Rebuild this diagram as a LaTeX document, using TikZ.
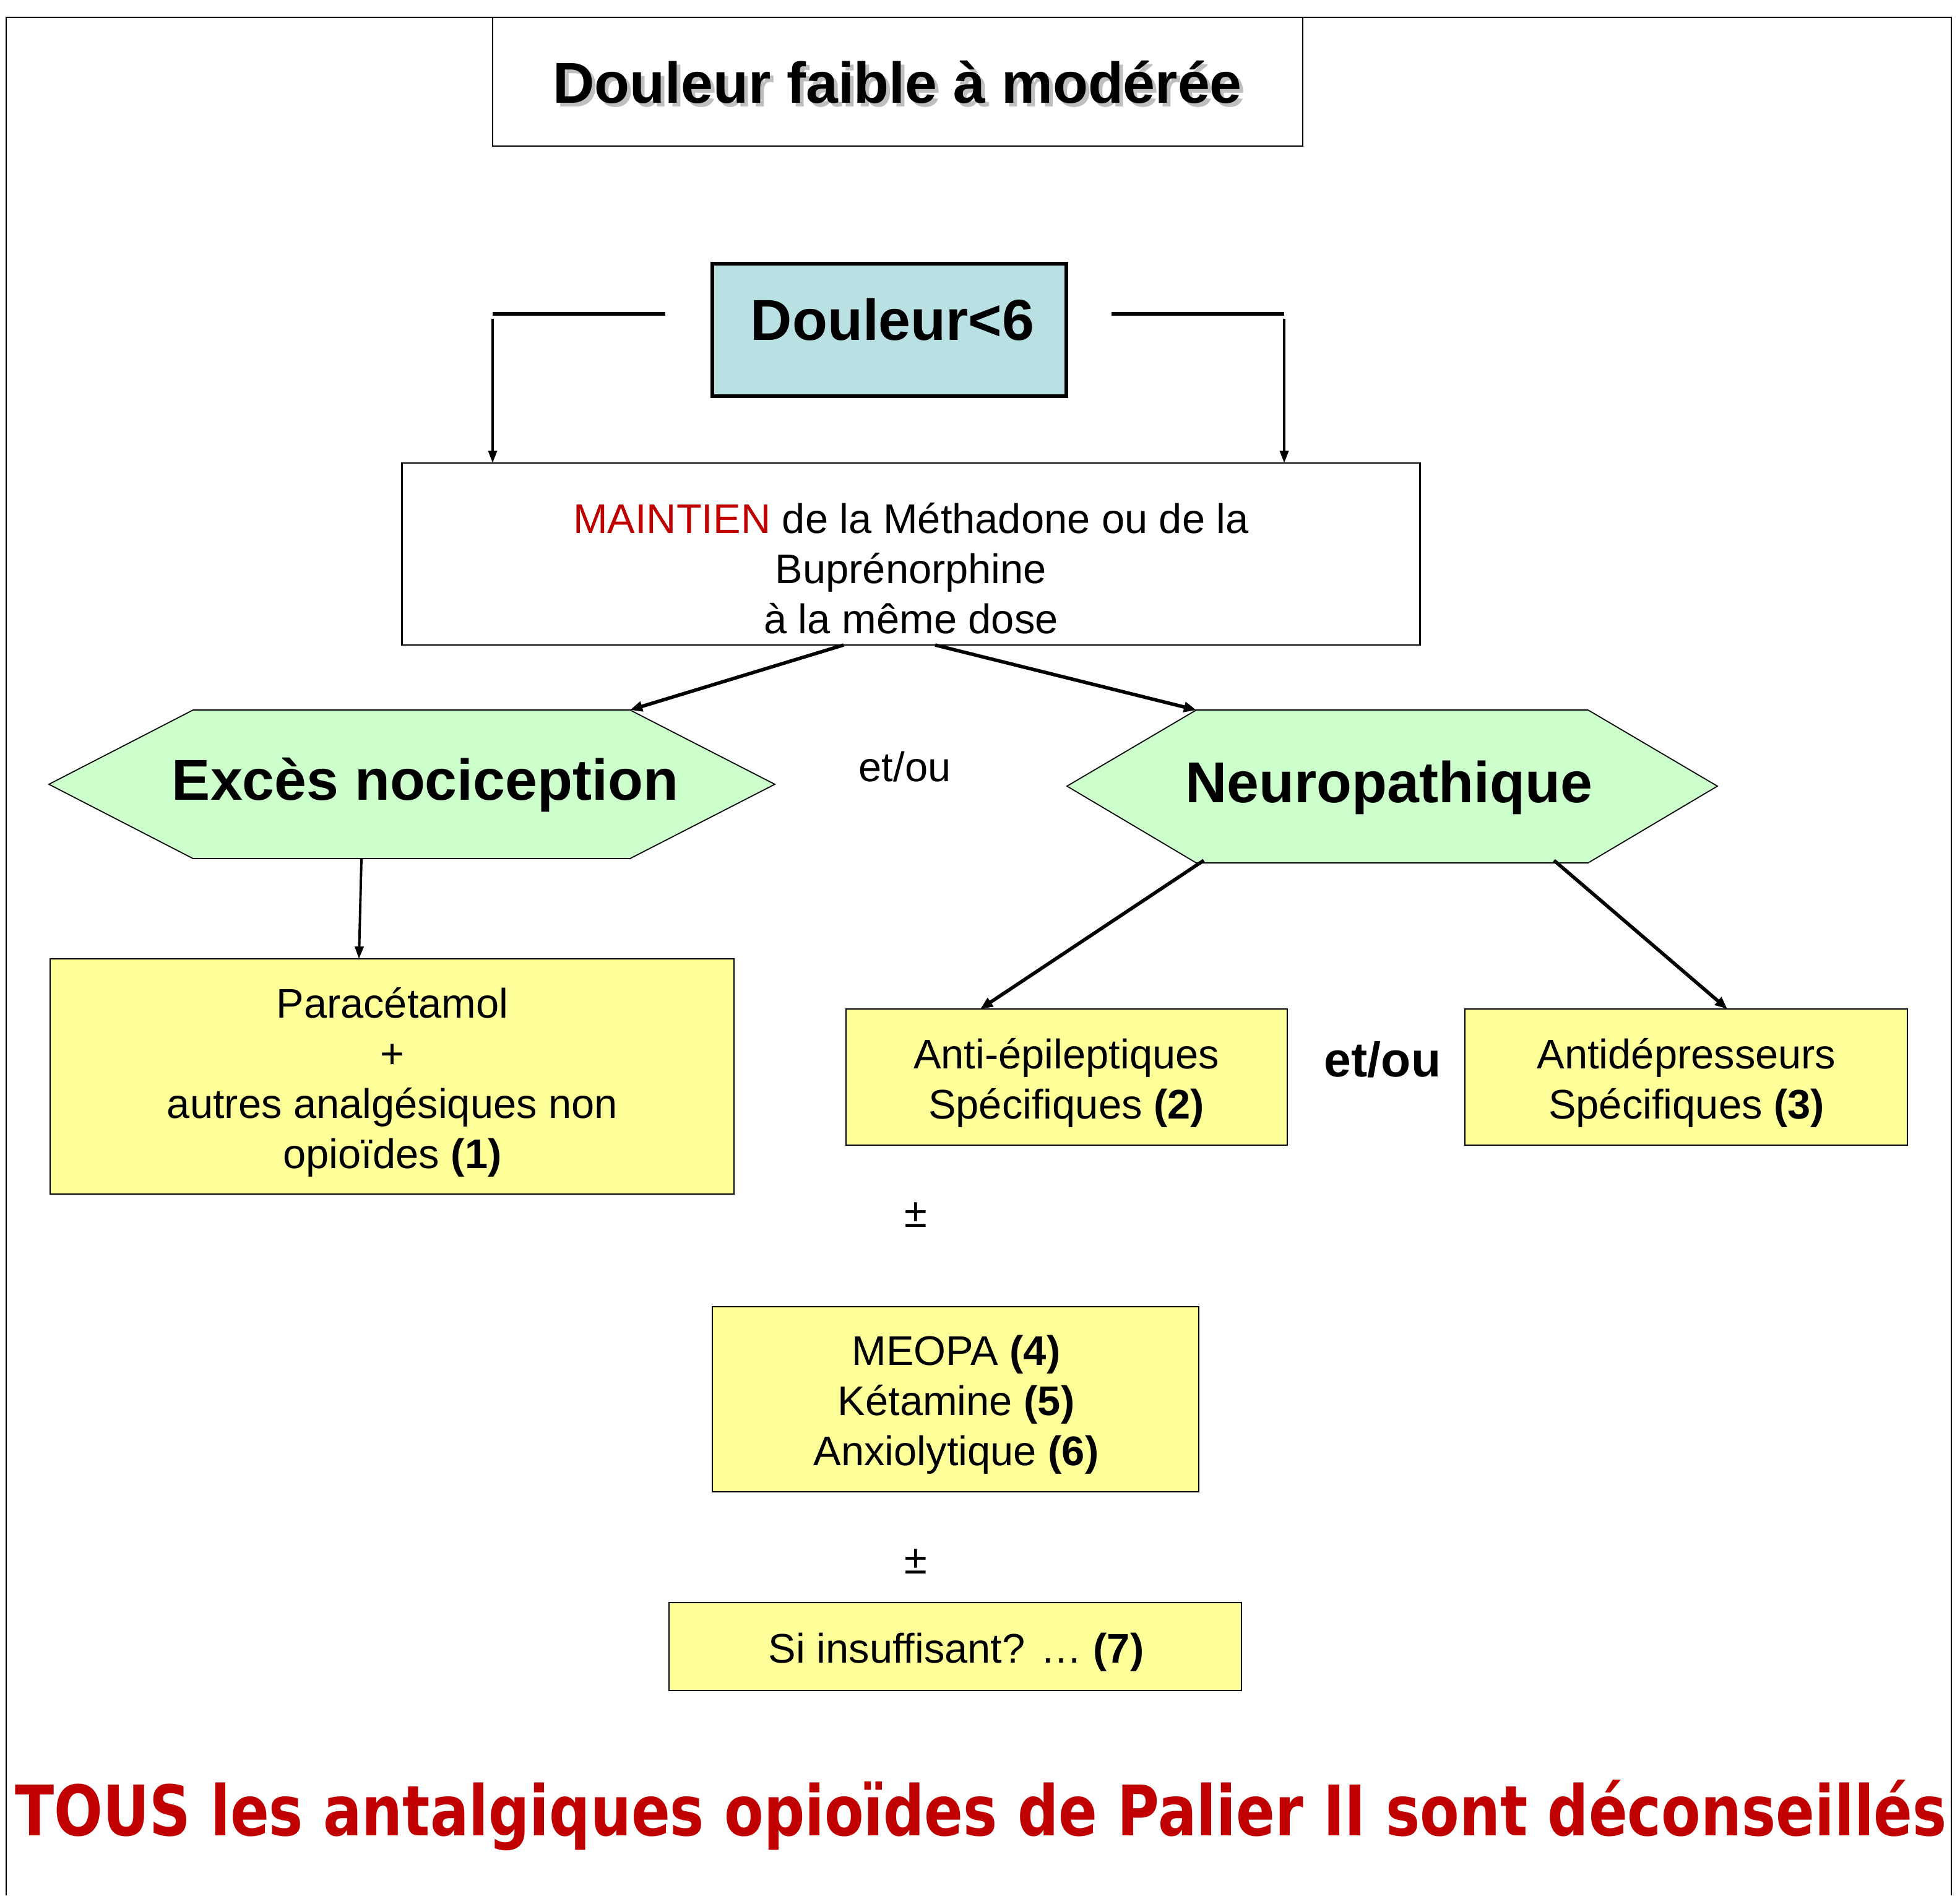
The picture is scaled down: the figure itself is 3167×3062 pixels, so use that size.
\documentclass[tikz,border=0pt]{standalone}
\usepackage{fontspec}
\setmainfont{Liberation Sans}
\newfontfamily\comicfont{DejaVu Sans}
\usetikzlibrary{arrows.meta}
\definecolor{dblue}{RGB}{185,224,227}
\definecolor{hgreen}{RGB}{204,255,204}
\definecolor{byellow}{RGB}{255,255,153}
\definecolor{dred}{RGB}{192,0,0}
\begin{document}
\begin{tikzpicture}[x=0.01cm,y=-0.01cm,
  txt/.style={font=\fontsize{19}{23}\selectfont, align=center, inner sep=0pt},
  bigtxt/.style={font=\fontsize{26.5}{32}\selectfont\bfseries, inner sep=0pt},
  plainbox/.style={draw, line width=0.6pt, inner sep=0pt},
  ybox/.style={plainbox, fill=byellow},
  hexa/.style={draw, line width=0.5pt, fill=hgreen},
  arr/.style={-{Triangle[length=0.2cm,width=0.16cm]}, line width=1.6pt},
  thinarr/.style={-{Triangle[length=0.2cm,width=0.14cm]}, line width=1.1pt},
  brk/.style={line width=1.6pt}
]
\useasboundingbox (0,0) rectangle (3167,3062);
% outer frame
\draw[line width=0.6pt] (10,3062) -- (10,28) -- (3153,28) -- (3153,3062);

% title
\node[plainbox, minimum width=13.09cm, minimum height=2.08cm] (title) at (1450.5,132) {};
\node[bigtxt, text=black!25] (titleshadow) at (1456,139) {Douleur faible à modérée};
\node[bigtxt] (titletxt) at (1450,133) {Douleur faible à modérée};

% Douleur<6
\node[draw, line width=1.6pt, fill=dblue, minimum width=5.72cm, minimum height=2.14cm, inner sep=0pt] (d6) at (1437,533) {};
\node[bigtxt] (d6txt) at (1442,516) {Douleur<6};

% bracket lines
\coordinate (lh1) at (796,507);
\coordinate (lh2) at (1075,507);
\coordinate (lv1) at (796,515);
\coordinate (lv2) at (796,748);
\coordinate (rh1) at (1796,507);
\coordinate (rh2) at (2075,507);
\coordinate (rv1) at (2075,515);
\coordinate (rv2) at (2075,748);
\draw[brk] (lh1) -- (lh2);
\draw[brk] (rh1) -- (rh2);
\draw[thinarr] (lv1) -- (lv2);
\draw[thinarr] (rv1) -- (rv2);

% maintien
\node[plainbox, minimum width=16.44cm, minimum height=2.94cm] (maint) at (1472,895) {};
\node[txt] (mainttxt) at (1472,918) {\textcolor{dred}{MAINTIEN} de la Méthadone ou de la\\Buprénorphine\\à la même dose};

% hexagons
\coordinate (hl1) at (79,1267);
\coordinate (hl2) at (312,1147);
\coordinate (hl3) at (1018,1147);
\coordinate (hl4) at (1252,1267);
\coordinate (hl5) at (1018,1387);
\coordinate (hl6) at (312,1387);
\draw[hexa] (hl1) -- (hl2) -- (hl3) -- (hl4) -- (hl5) -- (hl6) -- cycle;
\node[bigtxt] (noci) at (687,1268) {Excès nociception};

\coordinate (hr1) at (1724,1270);
\coordinate (hr2) at (1933,1147);
\coordinate (hr3) at (2566,1147);
\coordinate (hr4) at (2775,1270);
\coordinate (hr5) at (2566,1394);
\coordinate (hr6) at (1933,1394);
\draw[hexa] (hr1) -- (hr2) -- (hr3) -- (hr4) -- (hr5) -- (hr6) -- cycle;
\node[bigtxt] (neuro) at (2244,1272) {Neuropathique};

\node[txt] (etou1) at (1462,1239) {et/ou};

% arrows from maintien
\coordinate (m1) at (1363,1042);
\coordinate (m2) at (1511,1042);
\draw[arr] (m1) -- (hl3);
\draw[arr] (m2) -- (hr2);

% paracetamol
\node[ybox, minimum width=11.05cm, minimum height=3.80cm] (para) at (633.5,1739) {};
\node[txt] (paratxt) at (634,1748) {Paracétamol\\+\\autres analgésiques non\\opioïdes \textbf{(1)}};
\coordinate (pl1) at (584,1388);
\draw[thinarr] (pl1) -- (580,1549);

% neuropathic boxes
\node[ybox, minimum width=7.13cm, minimum height=2.20cm] (anti) at (1723.5,1740) {};
\node[txt] (antitxt) at (1723,1749) {Anti-épileptiques\\Spécifiques \textbf{(2)}};
\node[ybox, minimum width=7.15cm, minimum height=2.20cm] (antid) at (2724.5,1740) {};
\node[txt] (antidtxt) at (2725,1749) {Antidépresseurs\\Spécifiques \textbf{(3)}};
\node[font=\fontsize{22.4}{27}\selectfont\bfseries, inner sep=0pt] (etou2) at (2234,1712) {et/ou};

\coordinate (n1) at (1945,1390);
\coordinate (n2) at (2511,1390);
\coordinate (a1) at (1584,1630);
\coordinate (a2) at (2791,1630);
\draw[arr] (n1) -- (a1);
\draw[arr] (n2) -- (a2);

% pm
\node[txt] (pm1) at (1480,1963) {±};
\node[ybox, minimum width=7.86cm, minimum height=2.99cm] (meopa) at (1544,2260.5) {};
\node[txt] (meopatxt) at (1545,2269) {MEOPA \textbf{(4)}\\Kétamine \textbf{(5)}\\Anxiolytique \textbf{(6)}};
\node[txt] (pm2) at (1480,2523) {±};
\node[ybox, minimum width=9.25cm, minimum height=1.42cm] (si) at (1543.5,2660) {};
\node[txt] (sitxt) at (1545,2669) {Si insuffisant? … \textbf{(7)}};

% bottom warning
\node[anchor=base, inner sep=0pt, text=dred] (warn) at (1585,2965) {\resizebox{31.2cm}{0.9cm}{\comicfont\bfseries TOUS les antalgiques opioïdes de Palier II sont déconseillés}};
\end{tikzpicture}
\end{document}
